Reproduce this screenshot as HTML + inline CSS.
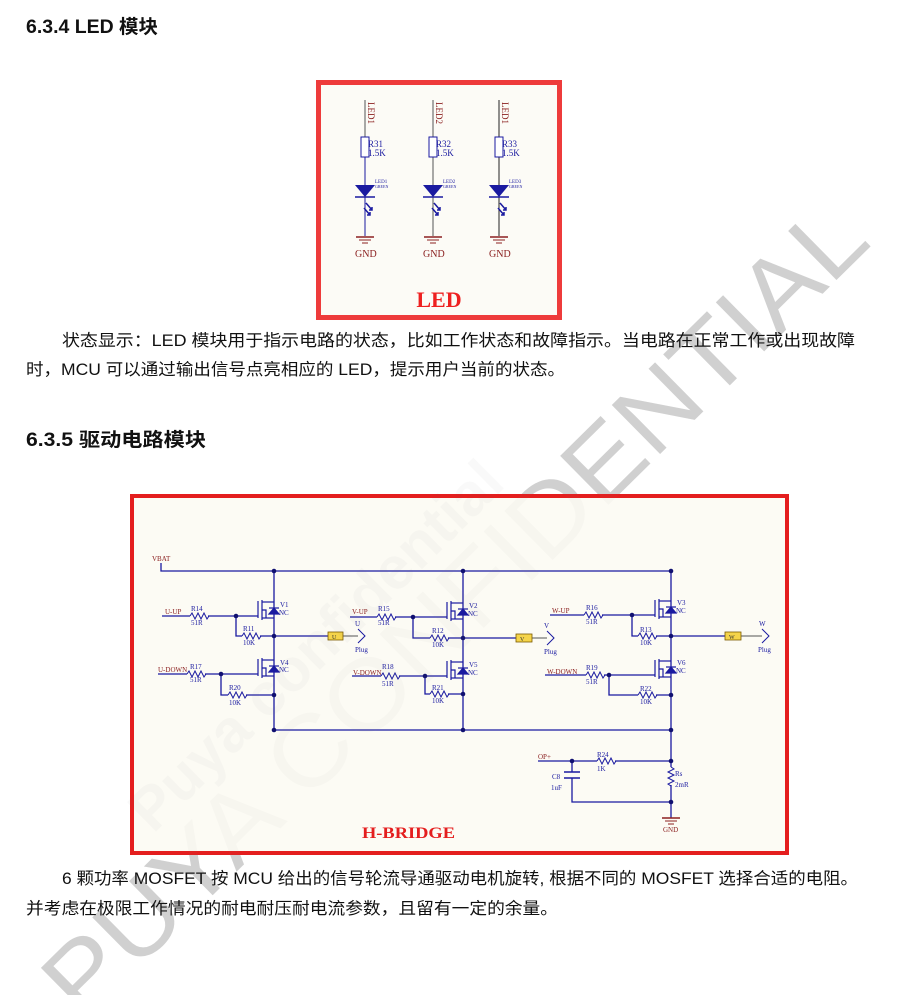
<!DOCTYPE html>
<html><head><meta charset="utf-8"><style>
html,body{margin:0;padding:0;background:#fff;width:911px;height:995px;overflow:hidden}
svg{display:block}
.t{font-family:"Liberation Sans","Noto Sans CJK SC",sans-serif;fill:#111}
.b{fill:#1a1aa0}
.r{fill:#8b2020}
</style></head><body>
<svg width="911" height="995" viewBox="0 0 911 995" xmlns="http://www.w3.org/2000/svg">
<defs>
<g id="res"><path d="M0 0 l2 -3 l3 6 l3 -6 l3 6 l3 -6 l3 6 l2 -3" fill="none" stroke="#1a1aa0" stroke-width="1"/></g>
<g id="gnd"><line x1="-9" y1="0" x2="9" y2="0" stroke="#8b2020" stroke-width="1.5"/><line x1="-6" y1="3" x2="6" y2="3" stroke="#8b2020"/><line x1="-3" y1="6" x2="3" y2="6" stroke="#8b2020"/></g>
<g id="fet" fill="none" stroke="#1a1aa0" stroke-width="1.2">
<line x1="-16" y1="-15" x2="-16" y2="2"/>
<line x1="-12" y1="-16" x2="-12" y2="4"/>
<line x1="-12" y1="-14" x2="0" y2="-14"/>
<line x1="-12" y1="2" x2="0" y2="2"/>
<path d="M-12 -6 h4 v8"/>
<path d="M-5 -2 l5 -6 l5 6 z" fill="#1a1aa0"/>
<line x1="-5" y1="-8" x2="5" y2="-8"/>
</g>
</defs>

<g transform="translate(450,605) rotate(-44.6)">
<text x="0" y="40" text-anchor="middle" font-family="Liberation Sans,sans-serif" font-size="100" fill="#d4d4d4" textLength="1110" lengthAdjust="spacingAndGlyphs">PUYA CONFIDENTIAL</text>
</g>

<text class="t" x="26" y="33" font-size="19" font-weight="bold" textLength="132" lengthAdjust="spacingAndGlyphs">6.3.4 LED 模块</text>
<text class="t" x="26" y="446" font-size="19" font-weight="bold" textLength="180" lengthAdjust="spacingAndGlyphs">6.3.5  驱动电路模块</text>

<text class="t" x="62" y="346" font-size="16.5" textLength="793" lengthAdjust="spacingAndGlyphs">状态显示：LED 模块用于指示电路的状态，比如工作状态和故障指示。当电路在正常工作或出现故障</text>
<text class="t" x="26" y="375" font-size="16.5" textLength="539" lengthAdjust="spacingAndGlyphs">时，MCU 可以通过输出信号点亮相应的 LED，提示用户当前的状态。</text>
<text class="t" x="62" y="884" font-size="16.5" textLength="796" lengthAdjust="spacingAndGlyphs">6 颗功率 MOSFET 按 MCU 给出的信号轮流导通驱动电机旋转, 根据不同的 MOSFET 选择合适的电阻。</text>
<text class="t" x="26" y="914" font-size="16.5" textLength="532" lengthAdjust="spacingAndGlyphs">并考虑在极限工作情况的耐电耐压耐电流参数，且留有一定的余量。</text>

<rect x="318.5" y="82.5" width="241" height="235" fill="#fcfbf6" stroke="#ee3b3b" stroke-width="5"/>
<g>
 <g transform="translate(365,0)">
  <line x1="0" y1="100" x2="0" y2="236" stroke="#1a1aa0" stroke-width="1"/>
  <line x1="0" y1="100" x2="0" y2="137" stroke="#555" stroke-width="1"/>
  <rect x="-4" y="137" width="8" height="20" fill="#fff" stroke="#1a1aa0"/>
  <path d="M-10 185 h20 l-10 12 z" fill="#1a1aa0"/>
  <line x1="-10" y1="197" x2="10" y2="197" stroke="#1a1aa0" stroke-width="1.5"/>
  <path d="M1 203 l6 7 M4 210 h3 v-3 M-1 208 l6 7 M2 215 h3 v-3" stroke="#1a1aa0" stroke-width="1.5" fill="none"/>
  <use href="#gnd" y="237"/>
  <text x="-10" y="257" font-family="Liberation Serif,serif" font-size="10" class="r">GND</text>
  <text x="3" y="147" font-family="Liberation Serif,serif" font-size="9" class="b">R31</text>
  <text x="3" y="156" font-family="Liberation Serif,serif" font-size="9" class="b">1.5K</text>
  <text x="10" y="183" font-family="Liberation Serif,serif" font-size="5" class="b">LED1</text>
  <text x="10" y="188" font-family="Liberation Serif,serif" font-size="4" class="b">GREEN</text>
  <text transform="translate(3,102) rotate(90)" font-family="Liberation Serif,serif" font-size="9" class="r">LED1</text>
 </g>
 <g transform="translate(433,0)">
  <line x1="0" y1="100" x2="0" y2="236" stroke="#555" stroke-width="1"/>
  <rect x="-4" y="137" width="8" height="20" fill="#fff" stroke="#1a1aa0"/>
  <path d="M-10 185 h20 l-10 12 z" fill="#1a1aa0"/>
  <line x1="-10" y1="197" x2="10" y2="197" stroke="#1a1aa0" stroke-width="1.5"/>
  <path d="M1 203 l6 7 M4 210 h3 v-3 M-1 208 l6 7 M2 215 h3 v-3" stroke="#1a1aa0" stroke-width="1.5" fill="none"/>
  <use href="#gnd" y="237"/>
  <text x="-10" y="257" font-family="Liberation Serif,serif" font-size="10" class="r">GND</text>
  <text x="3" y="147" font-family="Liberation Serif,serif" font-size="9" class="b">R32</text>
  <text x="3" y="156" font-family="Liberation Serif,serif" font-size="9" class="b">1.5K</text>
  <text x="10" y="183" font-family="Liberation Serif,serif" font-size="5" class="b">LED2</text>
  <text x="10" y="188" font-family="Liberation Serif,serif" font-size="4" class="b">GREEN</text>
  <text transform="translate(3,102) rotate(90)" font-family="Liberation Serif,serif" font-size="9" class="r">LED2</text>
 </g>
 <g transform="translate(499,0)">
  <line x1="0" y1="100" x2="0" y2="236" stroke="#222" stroke-width="1"/>
  <rect x="-4" y="137" width="8" height="20" fill="#fff" stroke="#1a1aa0"/>
  <path d="M-10 185 h20 l-10 12 z" fill="#1a1aa0"/>
  <line x1="-10" y1="197" x2="10" y2="197" stroke="#1a1aa0" stroke-width="1.5"/>
  <path d="M1 203 l6 7 M4 210 h3 v-3 M-1 208 l6 7 M2 215 h3 v-3" stroke="#1a1aa0" stroke-width="1.5" fill="none"/>
  <use href="#gnd" y="237"/>
  <text x="-10" y="257" font-family="Liberation Serif,serif" font-size="10" class="r">GND</text>
  <text x="3" y="147" font-family="Liberation Serif,serif" font-size="9" class="b">R33</text>
  <text x="3" y="156" font-family="Liberation Serif,serif" font-size="9" class="b">1.5K</text>
  <text x="10" y="183" font-family="Liberation Serif,serif" font-size="5" class="b">LED3</text>
  <text x="10" y="188" font-family="Liberation Serif,serif" font-size="4" class="b">GREEN</text>
  <text transform="translate(3,102) rotate(90)" font-family="Liberation Serif,serif" font-size="9" class="r">LED1</text>
 </g>
</g>
<text x="439" y="307" text-anchor="middle" font-family="Liberation Serif,serif" font-weight="bold" font-size="22" fill="#ee2020">LED</text>

<rect x="132" y="496" width="655" height="357" fill="#fcfbf4" stroke="#e41e1e" stroke-width="4"/>
<g stroke="#1a1aa0" stroke-width="1.3" fill="none">
 <path d="M161 563 V571 H671 V730 H274 V571"/>
 <line x1="463" y1="571" x2="463" y2="730"/>
 <line x1="274" y1="636" x2="328" y2="636"/>
 <line x1="463" y1="638" x2="516" y2="638"/>
 <line x1="671" y1="636" x2="725" y2="636"/>
 <path d="M162 616 H258"/><path d="M236 616 V636 H274"/>
 <path d="M158 674 H258"/><path d="M221 674 V695 H274"/>
 <path d="M350 617 H447"/><path d="M413 617 V638 H463"/>
 <path d="M352 676 H447"/><path d="M425 676 V694 H463"/>
 <path d="M550 615 H655"/><path d="M632 615 V636 H671"/>
 <path d="M545 675 H655"/><path d="M609 675 V695 H671"/>
 <path d="M538 761 H671"/><path d="M572 761 V802 H671"/>
 <line x1="671" y1="730" x2="671" y2="818"/>
</g>
<g fill="#fcfbf4">
 <rect x="190" y="612" width="18" height="8"/><rect x="242" y="632" width="18" height="8"/>
 <rect x="187" y="670" width="18" height="8"/><rect x="228" y="691" width="18" height="8"/>
 <rect x="377" y="613" width="18" height="8"/><rect x="430" y="634" width="18" height="8"/>
 <rect x="381" y="672" width="18" height="8"/><rect x="430" y="690" width="18" height="8"/>
 <rect x="584" y="611" width="18" height="8"/><rect x="638" y="632" width="18" height="8"/>
 <rect x="586" y="671" width="18" height="8"/><rect x="638" y="691" width="18" height="8"/>
 <rect x="597" y="757" width="18" height="8"/>
</g>
<use href="#res" x="190" y="616"/><use href="#res" x="242" y="636"/>
<use href="#res" x="187" y="674"/><use href="#res" x="228" y="695"/>
<use href="#res" x="377" y="617"/><use href="#res" x="430" y="638"/>
<use href="#res" x="381" y="676"/><use href="#res" x="430" y="694"/>
<use href="#res" x="584" y="615"/><use href="#res" x="638" y="636"/>
<use href="#res" x="586" y="675"/><use href="#res" x="638" y="695"/>
<use href="#res" x="597" y="761"/>
<rect x="666" y="767" width="10" height="18" fill="#fcfbf4"/>
<use href="#res" transform="translate(671,767) rotate(90)"/>
<rect x="564" y="772" width="16" height="6" fill="#fcfbf4"/>
<line x1="564" y1="772" x2="580" y2="772" stroke="#1a1aa0" stroke-width="1.5"/>
<line x1="564" y1="778" x2="580" y2="778" stroke="#1a1aa0" stroke-width="1.5"/>
<use href="#fet" x="274" y="616"/><use href="#fet" x="274" y="674"/>
<use href="#fet" x="463" y="617"/><use href="#fet" x="463" y="676"/>
<use href="#fet" x="671" y="615"/><use href="#fet" x="671" y="675"/>
<g fill="#101070">
 <circle cx="274" cy="571" r="2.3"/><circle cx="463" cy="571" r="2.3"/><circle cx="671" cy="571" r="2.3"/>
 <circle cx="236" cy="616" r="2.3"/><circle cx="274" cy="636" r="2.3"/><circle cx="221" cy="674" r="2.3"/><circle cx="274" cy="695" r="2.3"/>
 <circle cx="413" cy="617" r="2.3"/><circle cx="463" cy="638" r="2.3"/><circle cx="425" cy="676" r="2.3"/><circle cx="463" cy="694" r="2.3"/>
 <circle cx="632" cy="615" r="2.3"/><circle cx="671" cy="636" r="2.3"/><circle cx="609" cy="675" r="2.3"/><circle cx="671" cy="695" r="2.3"/>
 <circle cx="274" cy="730" r="2.3"/><circle cx="463" cy="730" r="2.3"/><circle cx="671" cy="730" r="2.3"/>
 <circle cx="572" cy="761" r="2.3"/><circle cx="671" cy="761" r="2.3"/><circle cx="671" cy="802" r="2.3"/>
</g>
<g stroke="#555" stroke-width="1">
 <line x1="343" y1="636" x2="358" y2="636"/><line x1="532" y1="638" x2="547" y2="638"/><line x1="741" y1="636" x2="762" y2="636"/>
</g>
<g fill="#f5d44a" stroke="#7a5a00" stroke-width="0.8">
 <rect x="328" y="632" width="15" height="8"/><rect x="516" y="634" width="16" height="8"/><rect x="725" y="632" width="16" height="8"/>
</g>
<g font-family="Liberation Serif,serif" font-size="6" fill="#333"><text x="332" y="639">U</text><text x="520" y="641">V</text><text x="729" y="639">W</text></g>
<g stroke="#1a1aa0" stroke-width="1" fill="none">
 <path d="M358 629 l7 7 l-7 7"/><path d="M547 631 l7 7 l-7 7"/><path d="M762 629 l7 7 l-7 7"/>
</g>
<g font-family="Liberation Serif,serif" font-size="7" class="b">
 <text x="355" y="626">U</text><text x="355" y="652">Plug</text>
 <text x="544" y="628">V</text><text x="544" y="654">Plug</text>
 <text x="759" y="626">W</text><text x="758" y="652">Plug</text>
 <text x="191" y="611">R14</text><text x="191" y="625">51R</text>
 <text x="243" y="631">R11</text><text x="243" y="645">10K</text>
 <text x="190" y="669">R17</text><text x="190" y="682">51R</text>
 <text x="229" y="690">R20</text><text x="229" y="705">10K</text>
 <text x="378" y="611">R15</text><text x="378" y="625">51R</text>
 <text x="432" y="633">R12</text><text x="432" y="647">10K</text>
 <text x="382" y="669">R18</text><text x="382" y="686">51R</text>
 <text x="432" y="690">R21</text><text x="432" y="703">10K</text>
 <text x="586" y="610">R16</text><text x="586" y="624">51R</text>
 <text x="640" y="632">R13</text><text x="640" y="645">10K</text>
 <text x="586" y="670">R19</text><text x="586" y="684">51R</text>
 <text x="640" y="691">R22</text><text x="640" y="704">10K</text>
 <text x="597" y="757">R24</text><text x="597" y="771">1K</text>
 <text x="675" y="776">Rs</text><text x="675" y="787">2mR</text>
 <text x="552" y="779">C8</text><text x="551" y="790">1uF</text>
 <text x="280" y="607">V1</text><text x="279" y="615">NC</text>
 <text x="280" y="665">V4</text><text x="279" y="672">NC</text>
 <text x="469" y="608">V2</text><text x="468" y="616">NC</text>
 <text x="469" y="667">V5</text><text x="468" y="675">NC</text>
 <text x="677" y="605">V3</text><text x="676" y="613">NC</text>
 <text x="677" y="665">V6</text><text x="676" y="673">NC</text>
</g>
<g font-family="Liberation Serif,serif" font-size="7" class="r">
 <text x="152" y="561">VBAT</text>
 <text x="165" y="614">U-UP</text><text x="158" y="672">U-DOWN</text>
 <text x="352" y="614">V-UP</text><text x="353" y="675">V-DOWN</text>
 <text x="552" y="613">W-UP</text><text x="547" y="674">W-DOWN</text>
 <text x="538" y="759">OP+</text>
 <text x="663" y="832">GND</text>
</g>
<use href="#gnd" x="671" y="818"/>
<text x="362" y="838" font-family="Liberation Serif,serif" font-weight="bold" font-size="16" fill="#e41e1e" textLength="93" lengthAdjust="spacingAndGlyphs">H-BRIDGE</text>

<g transform="translate(450,605) rotate(-44.6)" opacity="0.04">
<text x="0" y="40" text-anchor="middle" font-family="Liberation Sans,sans-serif" font-size="100" fill="#888" textLength="1110" lengthAdjust="spacingAndGlyphs">PUYA CONFIDENTIAL</text>
</g>
<g transform="translate(330,660) rotate(-44.6)" opacity="0.03">
<text x="0" y="0" text-anchor="middle" font-family="Liberation Sans,sans-serif" font-weight="bold" font-size="60" fill="#666">Puya confidential</text>
</g>
</svg>
</body></html>
